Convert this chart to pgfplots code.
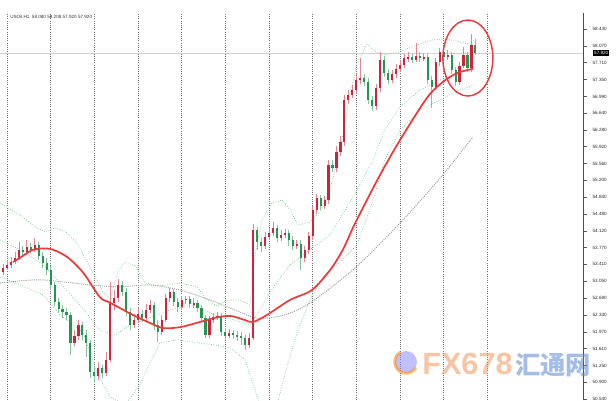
\documentclass[border=0pt]{standalone}
\usepackage{fontspec}
\setmainfont{Liberation Sans}
\newfontfamily\cjk{Noto Sans CJK SC}
\usepackage{pgfplots}
\usepackage{pgfplotstable}
\pgfplotsset{compat=1.18}
\definecolor{upcol}{RGB}{205,35,60}
\definecolor{dncol}{RGB}{35,150,80}
\definecolor{bandcol}{RGB}{120,200,150}
\definecolor{macol}{RGB}{235,60,60}
\definecolor{gridcol}{RGB}{120,120,120}

\pgfplotstableread{
i o h l c
0 53.25 53.42 53.18 53.33
1 53.33 53.50 53.29 53.40
2 53.40 53.57 53.33 53.46
3 53.46 53.67 53.42 53.55
4 53.55 53.89 53.50 53.72
5 53.72 53.80 53.59 53.67
6 53.67 53.93 53.61 53.78
7 53.78 53.87 53.63 53.72
8 53.72 53.97 53.67 53.82
9 53.82 53.89 53.50 53.59
10 53.59 53.67 53.33 53.44
11 53.44 53.55 53.18 53.29
12 53.29 53.38 52.86 52.97
13 52.97 53.03 52.52 52.61
14 52.61 52.69 52.37 52.46
15 52.46 52.54 52.27 52.39
16 52.39 52.48 52.22 52.33
17 52.33 52.39 51.48 51.73
18 51.73 52.01 51.67 51.88
19 51.88 52.22 51.80 52.12
20 52.12 52.18 51.80 51.90
21 51.90 52.01 51.43 51.73
22 51.73 51.80 50.99 51.11
23 51.11 51.24 50.88 51.03
24 51.03 51.33 50.94 51.20
25 51.20 51.26 50.99 51.09
26 51.09 51.54 51.03 51.37
27 51.37 53.03 51.33 52.59
28 52.59 52.86 52.44 52.69
29 52.69 53.10 52.61 52.97
30 52.97 53.05 52.74 52.82
31 52.82 52.91 52.31 52.39
32 52.39 52.48 52.01 52.12
33 52.12 52.35 52.05 52.22
34 52.22 52.48 52.16 52.35
35 52.35 52.44 52.18 52.27
36 52.27 52.56 52.20 52.44
37 52.44 52.65 52.37 52.54
38 52.54 52.61 52.01 52.12
39 52.12 52.22 51.75 51.97
40 51.97 52.33 51.90 52.22
41 52.22 52.78 52.18 52.69
42 52.69 52.91 52.61 52.82
43 52.82 52.88 52.52 52.61
44 52.61 52.69 52.39 52.50
45 52.50 52.74 52.44 52.65
46 52.65 52.74 52.56 52.67
47 52.67 52.74 52.48 52.56
48 52.56 52.69 52.48 52.59
49 52.59 52.65 52.39 52.48
50 52.48 52.54 52.18 52.27
51 52.27 52.33 51.84 51.90
52 51.90 52.31 51.84 52.22
53 52.22 52.37 52.16 52.29
54 52.29 52.39 52.22 52.31
55 52.31 52.37 51.88 51.97
56 51.97 52.05 51.80 51.88
57 51.88 52.03 51.84 51.95
58 51.95 52.01 51.82 51.90
59 51.90 51.99 51.78 51.88
60 51.88 51.97 51.69 51.84
61 51.84 51.90 51.58 51.69
62 51.69 51.95 51.63 51.84
63 51.84 54.27 51.80 54.14
64 54.14 54.21 53.72 53.89
65 53.89 53.97 53.67 53.80
66 53.80 54.10 53.74 53.99
67 53.99 54.19 53.93 54.08
68 54.08 54.31 54.02 54.19
69 54.19 54.25 53.89 53.97
70 53.97 54.14 53.91 54.04
71 54.04 54.16 53.97 54.08
72 54.08 54.14 53.80 53.93
73 53.93 54.02 53.72 53.80
74 53.80 53.93 53.74 53.84
75 53.84 53.93 53.29 53.55
76 53.55 53.80 53.46 53.72
77 53.72 54.10 53.63 54.02
78 54.02 54.66 53.93 54.57
79 54.57 54.91 54.48 54.83
80 54.83 54.89 54.57 54.66
81 54.66 54.87 54.59 54.78
82 54.78 55.64 54.70 55.53
83 55.53 55.64 55.38 55.47
84 55.47 55.94 55.38 55.81
85 55.81 56.15 55.72 56.02
86 56.02 57.02 55.94 56.92
87 56.92 57.13 56.83 57.02
88 57.02 57.24 56.96 57.13
89 57.13 57.47 57.04 57.34
90 57.34 57.81 57.26 57.38
91 57.38 57.47 57.22 57.30
92 57.30 57.38 56.83 56.92
93 56.92 57.00 56.68 56.79
94 56.79 57.26 56.70 57.17
95 57.17 57.94 57.09 57.77
96 57.77 57.85 57.41 57.49
97 57.49 57.58 57.26 57.34
98 57.34 57.56 57.28 57.47
99 57.47 57.68 57.39 57.58
100 57.58 57.77 57.51 57.66
101 57.66 57.90 57.60 57.81
102 57.81 57.94 57.73 57.83
103 57.83 57.90 57.71 57.77
104 57.77 58.13 57.73 57.85
105 57.85 57.94 57.73 57.81
106 57.81 57.92 57.75 57.83
107 57.83 57.90 57.26 57.34
108 57.34 57.43 56.75 57.19
109 57.19 57.81 57.13 57.73
110 57.73 58.03 57.64 57.94
111 57.94 58.00 57.77 57.83
112 57.83 57.98 57.77 57.88
113 57.88 57.94 57.47 57.56
114 57.56 57.62 57.22 57.30
115 57.30 57.73 57.24 57.64
116 57.64 58.05 57.60 57.88
117 57.88 57.94 57.51 57.60
118 57.60 58.32 57.51 58.09
119 58.08 58.208 57.88 57.92
}\candles

\pgfplotsset{candle/.style={draw=none, no markers, forget plot, restrict y to domain=40:70,
  error bars/.cd, y dir=both, y explicit, error mark=none}}

\begin{document}
\begin{tikzpicture}
\begin{axis}[
  at={(0,0)}, anchor=south west,
  scale only axis, width=437.25pt, height=290.25pt,
  xmin=-0.76, xmax=146.1, ymin=50.516, ymax=58.771,
  axis line style={draw=none},
  xtick={1,12,...,122}, xticklabels={}, xtick style={draw=none},
  xmajorgrids,
  major x grid style={draw=gridcol, line width=0.45pt, dash pattern=on 0.75pt off 0.9pt},
  ytick={50.54,50.90,51.25,51.61,51.97,52.33,52.69,53.05,53.41,53.77,54.12,54.48,54.84,55.20,55.56,55.92,56.28,56.64,56.99,57.35,57.71,58.07,58.43},
  ytick pos=right, yticklabel pos=right,
  tick align=outside, major tick length=3pt,
  ytick style={draw=gray!70!black, line width=0.4pt},
  yticklabel style={font=\fontsize{3.45}{4}\selectfont, text=black!85, inner sep=0pt, anchor=west, xshift=4pt,
    /pgf/number format/.cd, fixed, fixed zerofill, precision=3, assume math mode=true},
]
% current price line
\addplot[gray!35, line width=0.5pt, forget plot] coordinates {(-1,57.92) (147,57.92)};
% Bollinger bands
\addplot[bandcol, line width=0.5pt, dash pattern=on 0.6pt off 1.2pt] coordinates {
(-0.76,54.72) (4.3,54.46) (8.1,54.21) (10.6,54.10) (13.1,54.19) (15.6,54.12) (18.6,53.87) (21.9,53.35) (25.2,52.82) (27.0,52.69) (29.0,53.25) (30.7,53.46) (33.3,53.38) (35.8,53.01) (39.5,52.95) (44.6,53.01) (48.9,52.93) (51.4,52.65) (53.9,52.52) (56.4,52.65) (59.7,52.65) (62.2,52.54) (63.5,53.61) (65.2,54.36) (67.8,54.72) (70.3,54.78) (72.3,54.57) (74.3,54.25) (77.3,54.31) (79.9,54.53) (82.4,55.00) (84.9,55.85) (87.4,57.02) (89.2,57.71) (91.7,58.11) (94.2,57.92) (96.2,57.88) (99.2,57.92) (104.3,58.09) (108.3,58.20) (112.6,58.20) (118.4,58.09)};
\addplot[bandcol, line width=0.5pt, dash pattern=on 0.6pt off 1.2pt] coordinates {
(-0.76,53.93) (4.3,53.72) (10.1,53.40) (14.4,53.01) (19.4,52.54) (24.4,52.01) (28.2,51.90) (32.0,52.12) (37.0,52.27) (42.1,52.44) (48.4,52.54) (53.4,52.33) (58.4,52.22) (62.2,52.12) (64.7,52.44) (68.5,52.97) (72.3,53.40) (77.3,53.72) (82.4,54.04) (86.2,54.57) (89.2,55.00) (93.2,55.64) (96.2,56.28) (100.0,56.77) (105.0,57.13) (110.1,57.34) (115.1,57.51) (118.9,57.60)};
\addplot[bandcol, line width=0.5pt, dash pattern=on 0.6pt off 1.2pt] coordinates {
(-0.76,53.14) (4.3,52.97) (10.1,52.76) (14.4,52.33) (20.2,51.95) (23.7,51.09) (27.0,50.58) (30.7,50.41) (34.5,50.84) (37.0,51.31) (39.5,51.73) (43.8,51.80) (49.6,51.73) (53.4,51.69) (57.2,51.63) (61.0,51.37) (63.0,50.84) (65.2,50.30) (69.0,50.41) (71.5,51.22) (74.1,51.95) (77.3,52.65) (80.6,53.14) (84.9,53.46) (89.2,53.82) (93.2,54.78) (96.2,55.64) (100.0,56.28) (105.0,56.70) (110.1,56.92) (115.1,57.13) (118.9,57.24)};
% long moving average (grey dotted)
\addplot[gray!75, line width=0.7pt, dash pattern=on 0.8pt off 0.8pt, smooth] coordinates {
(-0.76,53.01) (9.3,53.08) (21.9,52.97) (29.5,52.93) (37.0,52.97) (44.6,52.86) (52.1,52.65) (59.7,52.39) (63.5,52.27) (67.3,52.27) (72.3,52.37) (77.8,52.61) (88.9,53.35) (100.0,54.29) (110.1,55.25) (118.4,56.13)};
% candle wicks
\addplot[candle, error bar style={draw=upcol!55, line width=0.55pt}]
  table[x=i, y expr={\thisrow{c}>=\thisrow{o} ? (\thisrow{h}+\thisrow{l})/2 : 1000},
        y error expr={(\thisrow{h}-\thisrow{l})/2}] {\candles};
\addplot[candle, error bar style={draw=dncol!55, line width=0.55pt}]
  table[x=i, y expr={\thisrow{c}<\thisrow{o} ? (\thisrow{h}+\thisrow{l})/2 : 1000},
        y error expr={(\thisrow{h}-\thisrow{l})/2}] {\candles};
% candle bodies
\addplot[candle, error bar style={draw=upcol, line width=1.6pt}]
  table[x=i, y expr={\thisrow{c}>=\thisrow{o} ? (\thisrow{o}+\thisrow{c})/2 : 1000},
        y error expr={abs(\thisrow{c}-\thisrow{o})/2}] {\candles};
\addplot[candle, error bar style={draw=dncol, line width=1.6pt}]
  table[x=i, y expr={\thisrow{c}<\thisrow{o} ? (\thisrow{o}+\thisrow{c})/2 : 1000},
        y error expr={abs(\thisrow{c}-\thisrow{o})/2}] {\candles};
% red moving average
\addplot[macol, line width=1.3pt, smooth] coordinates {
(2.5,53.46) (4.3,53.55) (7.6,53.72) (11.8,53.74) (16.1,53.57) (20.2,53.23) (24.4,52.71) (27.0,52.59) (32.7,52.33) (37.0,52.16) (40.3,52.05) (44.6,52.07) (49.6,52.18) (53.4,52.27) (57.2,52.31) (61.0,52.22) (63.0,52.18) (66.5,52.33) (72.3,52.65) (77.8,52.86) (82.4,53.29) (85.6,53.72) (88.2,54.20) (90.7,54.62) (95.0,55.32) (100.0,56.06) (106.8,56.96) (110.8,57.30) (114.4,57.49) (118.4,57.58)};
\coordinate (axr) at (rel axis cs:1,0);
\coordinate (axt) at (rel axis cs:1,1);
\coordinate (pr) at (axis cs:0,57.92);
\coordinate (circ) at (axis cs:117.1,57.81);
\end{axis}
% right price axis line
\draw[gray!60!black, line width=0.6pt] (axr) -- (axt);
% current price box
\node[fill=black, text=white, anchor=west, inner xsep=0.7pt, inner ysep=0.8pt,
  font=\fontsize{3.45}{4}\selectfont] at ([xshift=7.5pt]axr |- pr) {57.920};
% header
\node[anchor=west, inner sep=0pt, text=black!80, font=\fontsize{3.45}{4}\selectfont]
  at (7.5pt,287.25pt) {USOil,H1\ \ 58.080 58.208 57.920 57.920};
% highlight ellipse
\draw[macol, line width=1.1pt] (circ) ellipse [x radius=18.75pt, y radius=28.5pt];
% watermark
\begin{scope}[opacity=0.55]
\fill[blue!45] (304.5pt,28.5pt) circle (8.2pt);
\draw[orange, line width=2.2pt] (304.5pt,28.5pt) ++(120:8.5pt) arc (120:330:8.5pt);
\node[anchor=base west, inner sep=0pt, text={rgb,255:red,240;green,150;blue,90},
  font=\fontsize{23}{23}\selectfont\bfseries] at (316.5pt,19.5pt) {FX678};
\node[anchor=base west, inner sep=0pt, text={rgb,255:red,90;green,135;blue,210},
  font=\cjk\fontsize{19}{19}\selectfont\bfseries] at (386.25pt,19.5pt) {汇通网};
\end{scope}
\pgfresetboundingbox
\path[use as bounding box] (0,0) rectangle (462pt,300pt);
\end{tikzpicture}
\end{document}
